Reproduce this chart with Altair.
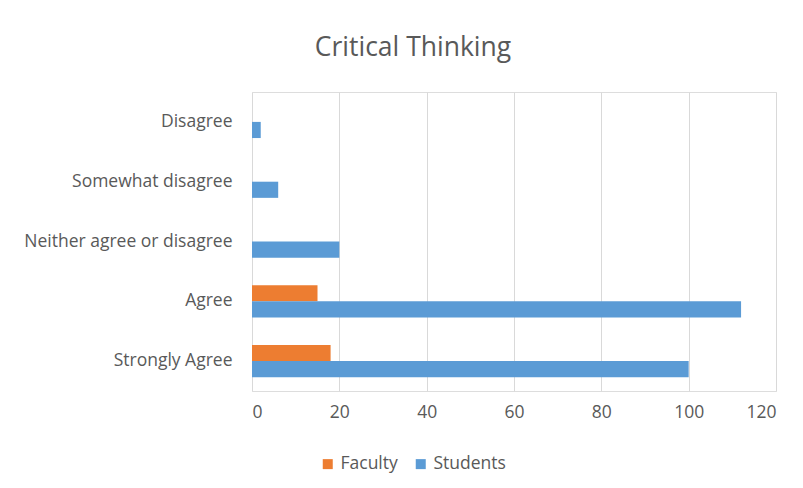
import altair as alt
import pandas as pd

categories = ["Disagree", "Somewhat disagree", "Neither agree or disagree", "Agree", "Strongly Agree"]
faculty = [0, 0, 0, 15, 18]
students = [2, 6, 20, 112, 100]
series = ["Faculty", "Students"]
colors = ["#ED7D31", "#5B9BD5"]
x_ticks = [0, 20, 40, 60, 80, 100, 120]

rows = []
for c, f, s in zip(categories, faculty, students):
    rows.append({"category": c, "series": "Faculty", "value": f})
    rows.append({"category": c, "series": "Students", "value": s})
df = pd.DataFrame(rows)

FONT = "Open Sans"
GREY = "#595959"

chart = alt.Chart(df).mark_bar().encode(
    y=alt.Y("category:N", sort=categories,
            scale=alt.Scale(paddingInner=0.46, paddingOuter=0.23),
            axis=alt.Axis(title=None, ticks=False, domain=False, labelPadding=20,
                          labelFontSize=17.5, labelColor=GREY, labelFont=FONT,
                          labelLimit=400)),
    yOffset=alt.YOffset("series:N", sort=series),
    x=alt.X("value:Q", scale=alt.Scale(domain=[0, 120], nice=False),
            axis=alt.Axis(title=None, values=x_ticks, ticks=False, domain=False,
                          grid=True, gridColor="#D9D9D9", gridWidth=1,
                          labelPadding=12, labelFontSize=17.5, labelColor=GREY,
                          labelFont=FONT)),
    color=alt.Color("series:N", sort=series,
                    scale=alt.Scale(domain=series, range=colors),
                    legend=alt.Legend(title=None, orient="none", direction="horizontal",
                                      legendX=67, legendY=363, symbolType="square",
                                      symbolSize=100, symbolStrokeWidth=0,
                                      labelFontSize=17.5, labelColor=GREY, labelFont=FONT,
                                      columnPadding=14, labelOffset=4)),
).properties(
    width=524,
    height=299,
    title=alt.TitleParams("Critical Thinking", fontSize=26.5, font=FONT, color=GREY,
                          fontWeight="normal", dx=-101, offset=31),
    autosize=alt.AutoSizeParams(type="none"),
    padding={"left": 244, "top": 84, "right": 19, "bottom": 96},
).configure_view(stroke=None).configure(background="white")

chart.save("out.html", embed_options={"renderer": "svg", "actions": False})
